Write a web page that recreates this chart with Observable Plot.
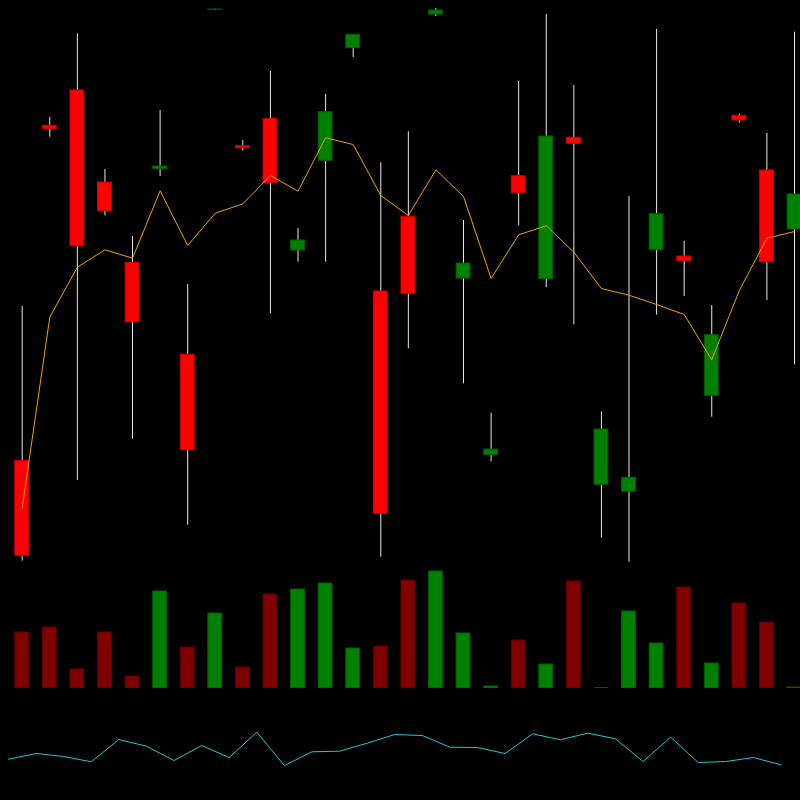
<!DOCTYPE html>
<html>
<head>
<meta charset="utf-8">
<script src="https://cdn.jsdelivr.net/npm/d3@7"></script>
<script src="https://cdn.jsdelivr.net/npm/@observablehq/plot@0.6"></script>
<style>
  html, body { margin: 0; padding: 0; background: #000; }
  #chart { width: 800px; height: 800px; background: #000; overflow: hidden; }
  #chart svg { display: block; }
</style>
</head>
<body>
<div id="chart"></div>
<script>
// ---- data ----
const opens  = [13.97, 47.47, 51.0, 41.8, 33.77, 43.13, 24.57, 59.08, 45.43, 48.17, 35.0, 43.97, 55.23, 30.9, 38.37, 58.6, 32.2, 14.53, 42.43, 32.13, 46.27, 11.57, 10.87, 35.03, 34.4, 20.47, 48.47, 43.0, 37.1];
const closes = [4.47, 47.13, 35.43, 38.93, 27.83, 43.4, 15.03, 59.1, 45.23, 41.77, 36.0, 48.83, 56.57, 8.67, 30.67, 59.0, 33.7, 15.1, 40.73, 46.4, 45.67, 17.1, 12.27, 38.63, 33.93, 26.53, 48.0, 33.83, 40.6];
const highs  = [29.4, 48.33, 56.67, 43.1, 36.4, 49.0, 31.6, 59.12, 46.0, 52.9, 37.2, 50.6, 56.6, 43.77, 46.87, 59.2, 38.0, 18.73, 51.9, 58.6, 51.5, 18.87, 40.4, 57.1, 35.93, 29.5, 48.63, 46.7, 56.83];
const lows   = [3.93, 46.33, 12.0, 38.47, 16.13, 42.4, 7.53, 59.06, 44.93, 28.67, 33.83, 33.83, 54.3, 4.33, 25.17, 58.4, 21.67, 13.87, 37.47, 31.27, 27.57, 6.23, 3.83, 28.53, 30.4, 18.33, 47.73, 30.0, 23.57];
const average = [9.23, 28.33, 33.33, 35.07, 34.23, 40.97, 35.5, 38.73, 39.67, 42.5, 40.93, 46.27, 45.6, 40.5, 38.5, 43.07, 40.4, 32.2, 36.57, 37.47, 34.83, 31.2, 30.53, 29.6, 28.6, 24.07, 31.0, 36.23, 36.9];
const volumes = [5600, 6100, 1900, 5600, 1200, 9700, 4100, 7500, 2100, 9400, 9900, 10500, 4000, 4200, 10800, 11700, 5500, 200, 4800, 2400, 10700, 30, 7700, 4500, 10100, 2500, 8500, 6600, 100];
const oscillator = [41.3, 47, 44, 38.7, 61, 54.3, 40, 55, 43, 68.3, 35, 48.7, 49.3, 57.3, 66, 65, 53.3, 53, 47, 66.7, 60.7, 67.3, 61.7, 39, 63.3, 38, 39, 43, 35.7];

const candles = opens.map((o, i) => ({
  i, open: o, close: closes[i], high: highs[i], low: lows[i],
  avg: average[i], vol: volumes[i], osc: oscillator[i],
  up: closes[i] >= o
}));

const W = 800;
const chart = document.getElementById("chart");

// ---- price panel ----
const price = Plot.plot({
  width: W, height: 570,
  marginTop: 0, marginBottom: 0, marginLeft: 21.7, marginRight: 6,
  style: { background: "#000" },
  x: { domain: [0, 28], axis: null },
  y: { domain: [3, 60], axis: null },
  marks: [
    Plot.ruleX(candles, { x: "i", y1: "low", y2: "high", stroke: "#e8e8e8", strokeWidth: 1 }),
    Plot.rect(candles, {
      x1: d => d.i - 0.25, x2: d => d.i + 0.25,
      y1: "open", y2: "close",
      fill: d => d.up ? "#008000" : "#ff0000",
      stroke: d => d.up ? "#006000" : "#d00000",
      strokeWidth: 1
    }),
    Plot.line(candles, { x: "i", y: "avg", stroke: "#f0a000", strokeWidth: 1 })
  ]
});

// ---- volume panel ----
const volume = Plot.plot({
  width: W, height: 118,
  marginTop: 0, marginBottom: 0, marginLeft: 21.7, marginRight: 6,
  style: { background: "#000" },
  x: { domain: [0, 28], axis: null },
  y: { domain: [0, 11800], axis: null },
  marks: [
    Plot.rect(candles, {
      x1: d => d.i - 0.25, x2: d => d.i + 0.25,
      y1: 0, y2: "vol",
      fill: d => d.up ? "#008000" : "#800000",
      stroke: d => d.up ? "#006000" : "#600000",
      strokeWidth: 1
    })
  ]
});

// ---- oscillator panel ----
const osc = Plot.plot({
  width: W, height: 112,
  marginTop: 0, marginBottom: 0, marginLeft: 8, marginRight: 19.5,
  style: { background: "#000" },
  x: { domain: [0, 28], axis: null },
  y: { domain: [0, 112], axis: null },
  marks: [
    Plot.line(candles, { x: "i", y: "osc", stroke: "#20c8d0", strokeWidth: 1 })
  ]
});

chart.append(price, volume, osc);
</script>
</body>
</html>
